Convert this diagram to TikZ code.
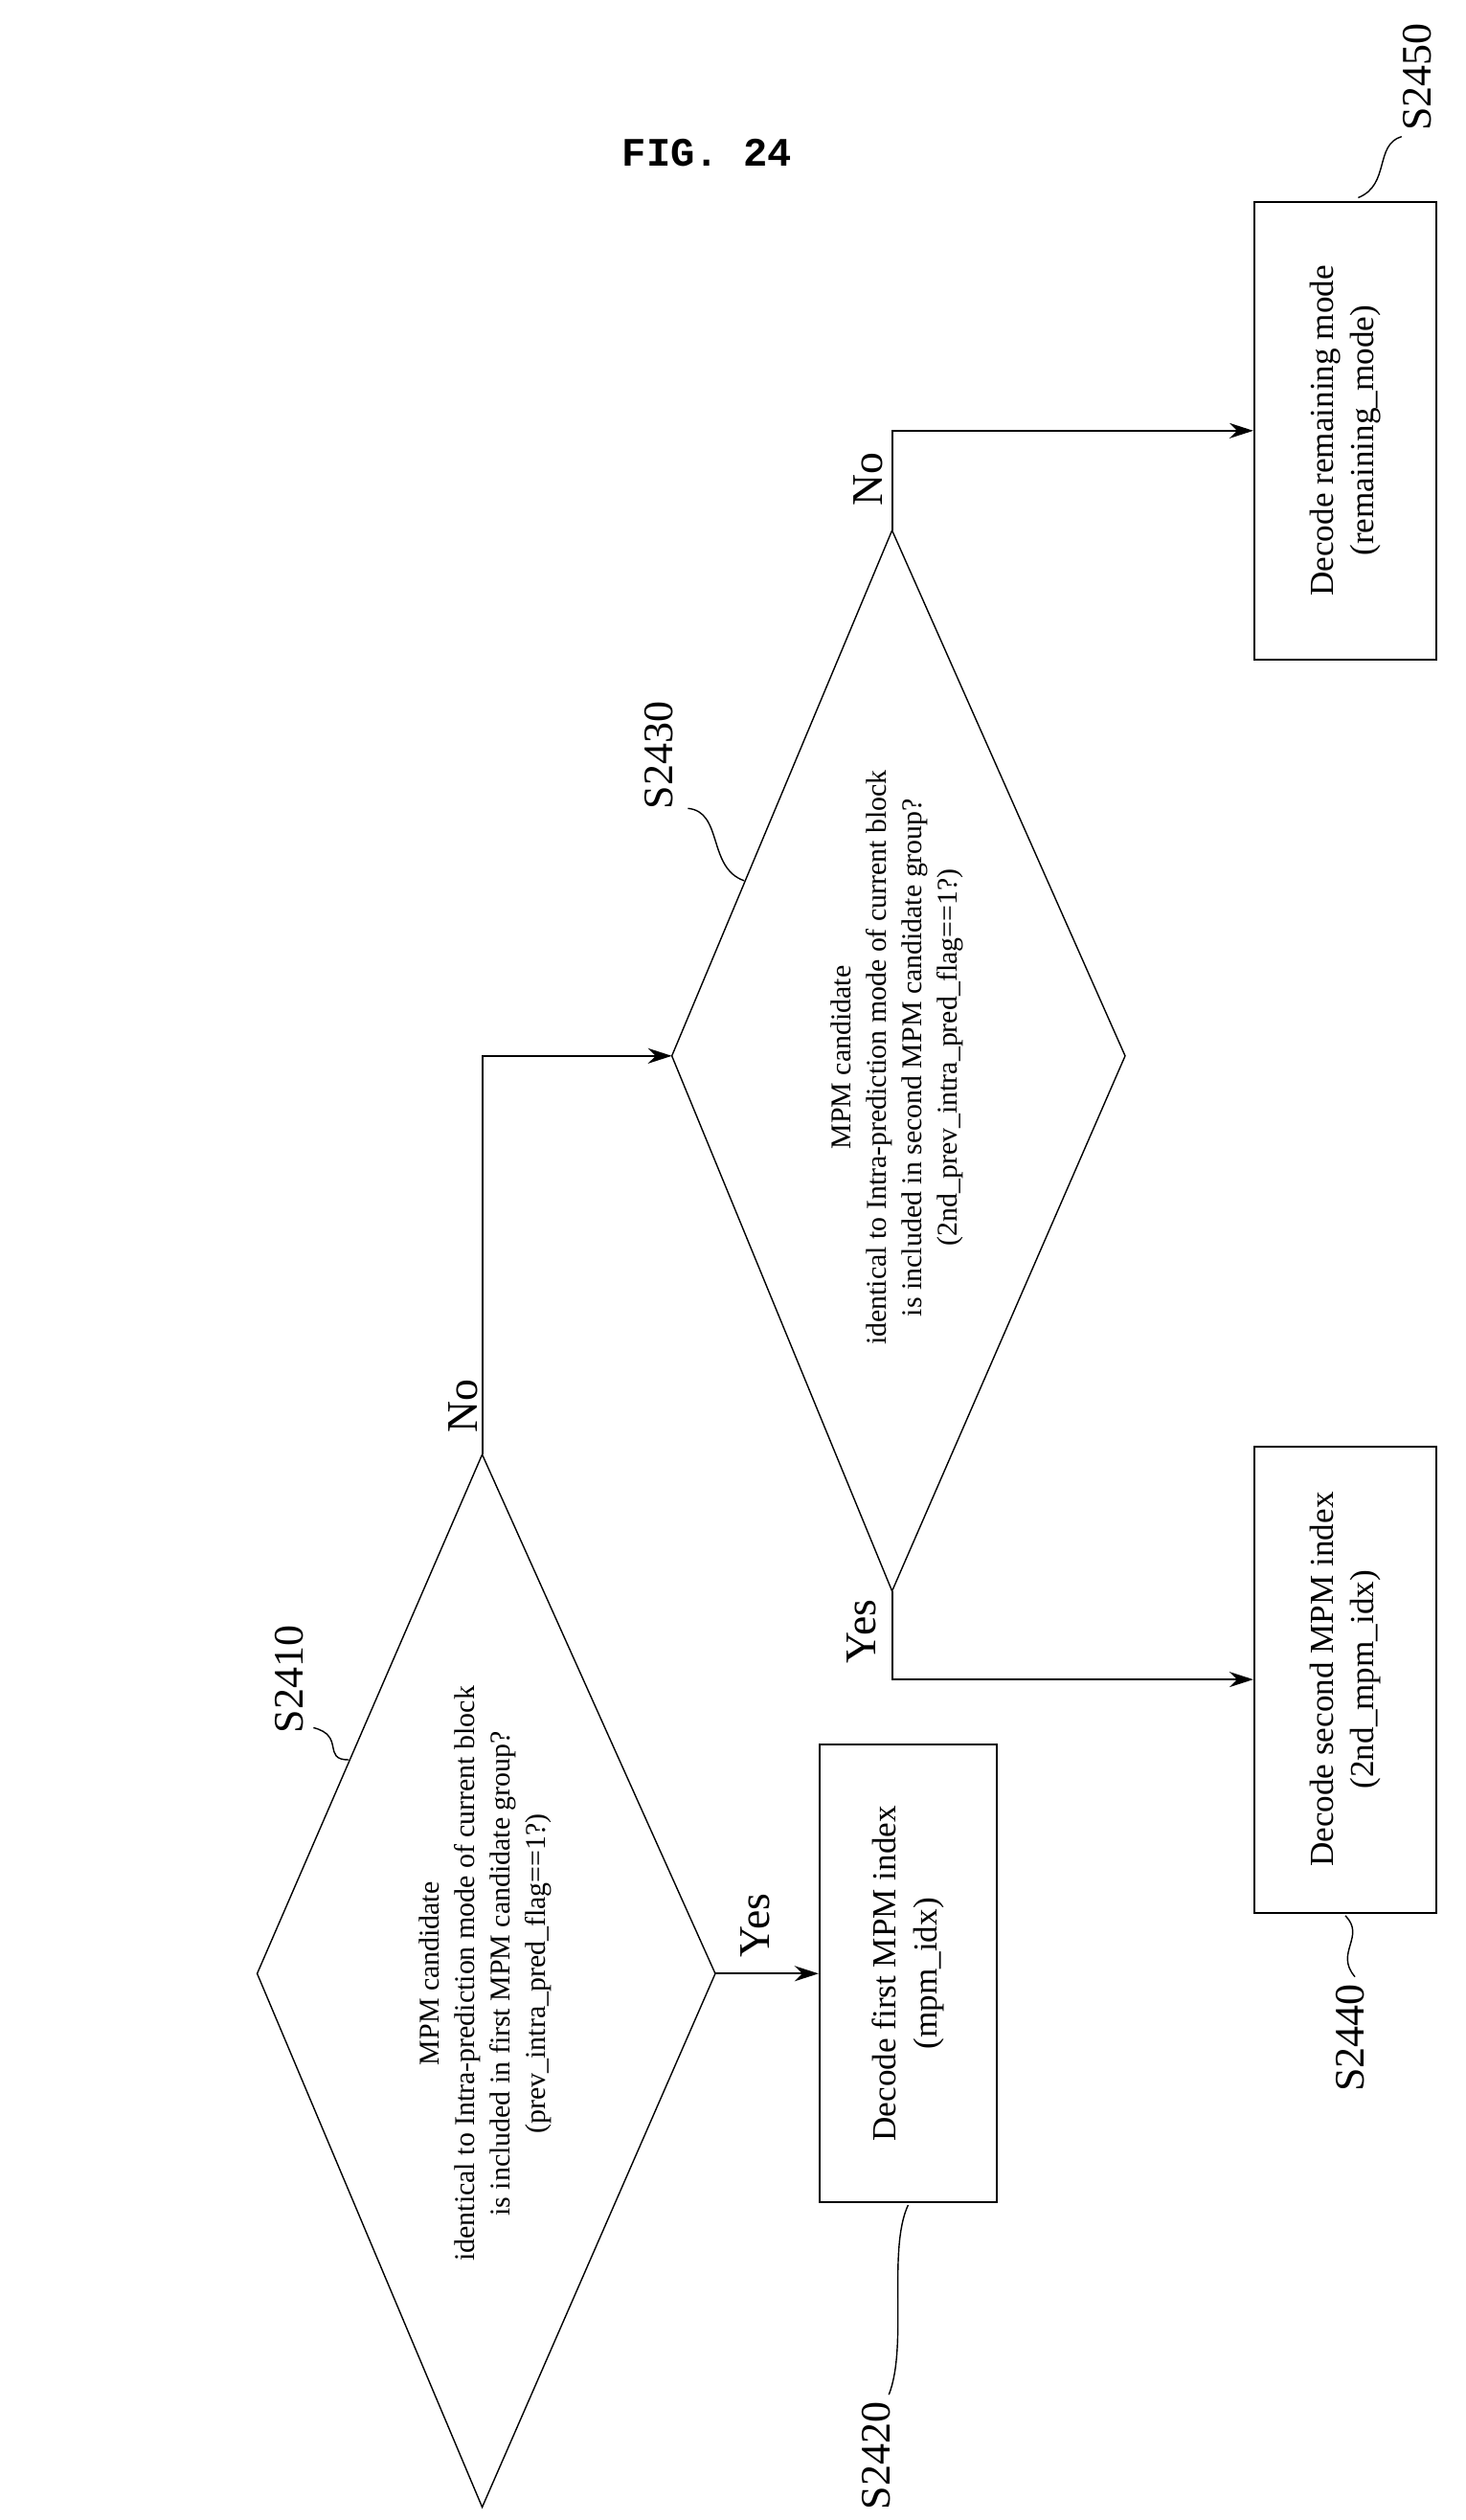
\documentclass[tikz,border=0pt]{standalone}
\usepackage{fontspec}
\setmainfont{Liberation Serif}
\newfontfamily\figfont{Liberation Mono}
\usetikzlibrary{arrows.meta}

\tikzstyle{box}=[rectangle,draw,rotate=90,align=center,font=\fontsize{10}{12}\selectfont]
\tikzstyle{dtext}=[rotate=90,align=center,font=\fontsize{8.5}{10.5}\selectfont]
\tikzstyle{lbl}=[rotate=90,font=\fontsize{13}{15}\selectfont]
\tikzstyle{steplbl}=[rotate=90,font=\fontsize{12.5}{14}\selectfont]
\tikzstyle{flow}=[-{Stealth[length=2.5mm,width=1.6mm]}]

\begin{document}
\begin{tikzpicture}[x=0.01678cm,y=-0.01678cm,line width=0.6pt]
\useasboundingbox (0,0) rectangle (912,1568);
\node[font=\figfont\bfseries\fontsize{12}{14}\selectfont] (fig) at (440,95) {FIG. 24};

% first decision
\coordinate (d1t) at (300,905);
\coordinate (d1r) at (445,1228);
\coordinate (d1b) at (300,1560);
\coordinate (d1l) at (160,1228);
\draw[line width=0.4pt] (d1t) -- (d1r) -- (d1b) -- (d1l) -- cycle;
\node[dtext] (d1) at (302,1228) {MPM candidate\\identical to Intra-prediction mode of current block\\is included in first MPM candidate group?\\(prev\_intra\_pred\_flag==1?)};
\node[box,minimum width=4.78cm,minimum height=1.85cm] (b1) at (565,1228) {Decode first MPM index\\(mpm\_idx)};

% second decision
\coordinate (d2t) at (555,330);
\coordinate (d2r) at (700,657);
\coordinate (d2b) at (555,990);
\coordinate (d2l) at (418,657);
\draw[line width=0.4pt] (d2t) -- (d2r) -- (d2b) -- (d2l) -- cycle;
\node[dtext] (d2) at (558,658) {MPM candidate\\identical to Intra-prediction mode of current block\\is included in second MPM candidate group?\\(2nd\_prev\_intra\_pred\_flag==1?)};
\node[box,minimum width=4.87cm,minimum height=1.9cm] (b2) at (837,1045) {Decode second MPM index\\(2nd\_mpm\_idx)};
\node[box,minimum width=4.78cm,minimum height=1.9cm] (b3) at (837,268) {Decode remaining mode\\(remaining\_mode)};

% connectors
\draw[flow] (d1r) -- (b1);
\draw[flow] (d1t) |- (d2l);
\draw[flow] (d2b) |- (b2);
\draw[flow] (d2t) |- (b3);
\node[lbl] (yes1) at (470,1198) {Yes};
\node[lbl] (no1) at (288,875) {No};
\node[lbl] (yes2) at (536,1015) {Yes};
\node[lbl] (no2) at (540,298) {No};

% step labels
\node[steplbl] (s2410) at (180,1045) {S2410};
\draw[line width=0.4pt] (195,1075) .. controls (215,1080) and (200,1095) .. (217,1095);
\node[steplbl] (s2420) at (545,1528) {S2420};
\draw[line width=0.4pt] (553,1490) .. controls (565,1460) and (552,1400) .. (565,1372);
\node[steplbl] (s2430) at (410,470) {S2430};
\draw[line width=0.4pt] (428,503) .. controls (450,505) and (440,540) .. (463,548);
\node[steplbl] (s2440) at (840,1268) {S2440};
\draw[line width=0.4pt] (843,1230) .. controls (830,1215) and (850,1205) .. (837,1192);
\node[steplbl] (s2450) at (882,48) {S2450};
\draw[line width=0.4pt] (872,85) .. controls (855,90) and (865,115) .. (845,123);
\end{tikzpicture}
\end{document}
